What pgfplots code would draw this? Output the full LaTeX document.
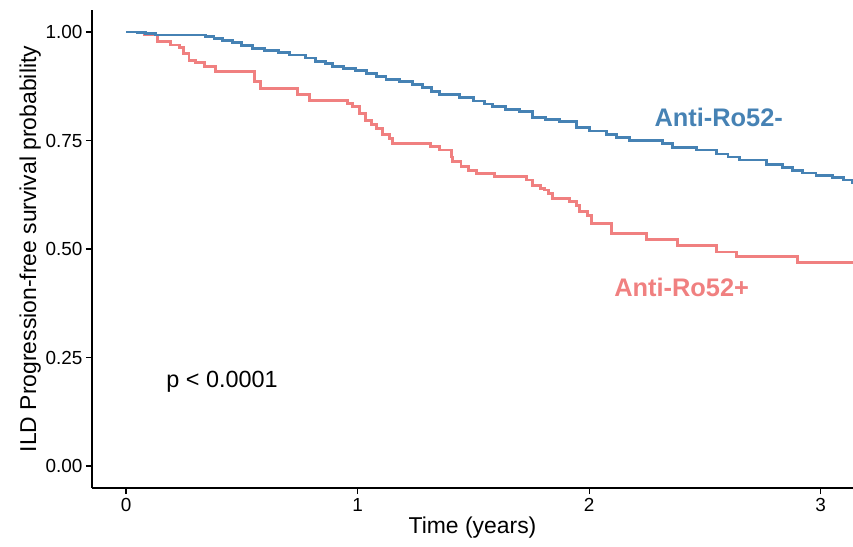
\documentclass[border=0pt]{standalone}
\usepackage{pgfplots}
\pgfplotsset{compat=1.18}
\usepackage{fontspec}
\setmainfont{Liberation Sans}
\definecolor{roneg}{RGB}{70,130,180}
\definecolor{ropos}{RGB}{240,128,128}
\begin{document}
\begin{tikzpicture}
\path[use as bounding box] (-92bp,-59bp) rectangle (761bp,488bp);
\begin{axis}[
  at={(0,0)}, anchor=south west,
  scale only axis, width=761bp, height=478bp,
  xmin=-0.147, xmax=3.14, ymin=-0.0507, ymax=1.0507,
  axis x line*=bottom, axis y line*=left,
  axis line style={-, line width=1.2bp, black},
  xtick={0,1,2,3}, ytick={0,0.25,0.5,0.75,1},
  tick style={line width=1.1bp, black},
  tick align=outside, major tick length=6bp,
  minor tick num=0,
  /pgf/number format/assume math mode=true,
  xticklabel style={font=\fontsize{19}{21}\selectfont, black, yshift=-1bp},
  yticklabel style={font=\fontsize{19}{21}\selectfont, black,
    /pgf/number format/.cd, fixed, fixed zerofill, precision=2},
  xlabel={Time (years)},
  ylabel={ILD Progression-free survival probability},
  xlabel style={font=\fontsize{23}{26}\selectfont, yshift=2bp},
  ylabel style={font=\fontsize{23}{26}\selectfont, yshift=-2bp},
  clip=true,
]
\addplot[const plot, color=ropos, line width=2.9bp] coordinates {
(0,1.000) (0.08,0.993) (0.135,0.978) (0.193,0.970) (0.229,0.964)
(0.25,0.950) (0.272,0.935) (0.301,0.930) (0.337,0.920) (0.388,0.909)
(0.556,0.886) (0.582,0.870) (0.741,0.855) (0.791,0.843) (0.955,0.836)
(0.978,0.828) (1.007,0.813) (1.036,0.797) (1.06,0.786) (1.080,0.778)
(1.108,0.763) (1.137,0.755) (1.151,0.744) (1.317,0.736) (1.353,0.728)
(1.404,0.712) (1.411,0.701) (1.447,0.690) (1.48,0.680) (1.512,0.674)
(1.591,0.667) (1.728,0.659) (1.757,0.647) (1.79,0.640) (1.807,0.636)
(1.825,0.628) (1.843,0.617) (1.915,0.610) (1.944,0.601) (1.959,0.586)
(1.994,0.578) (2.009,0.559) (2.096,0.536) (2.247,0.521) (2.382,0.509)
(2.551,0.493) (2.637,0.482) (2.901,0.468) (3.2,0.468)
};
\addplot[const plot, color=roneg, line width=2.9bp] coordinates {
(0,1.000) (0.05,0.998) (0.085,0.996) (0.128,0.993) (0.345,0.989)
(0.38,0.985) (0.416,0.980) (0.46,0.975) (0.50,0.968) (0.546,0.962)
(0.60,0.957) (0.66,0.952) (0.705,0.947) (0.777,0.940) (0.82,0.933)
(0.86,0.927) (0.892,0.920) (0.94,0.916) (0.993,0.911) (1.04,0.905)
(1.08,0.898) (1.123,0.891) (1.18,0.886) (1.236,0.880) (1.28,0.872)
(1.32,0.863) (1.353,0.855) (1.44,0.849) (1.50,0.841) (1.55,0.834)
(1.582,0.829) (1.64,0.822) (1.699,0.816) (1.755,0.804) (1.81,0.799)
(1.872,0.793) (1.946,0.779) (2.0,0.772) (2.075,0.763) (2.12,0.757)
(2.175,0.751) (2.317,0.744) (2.361,0.733) (2.464,0.728) (2.551,0.719)
(2.60,0.712) (2.650,0.705) (2.767,0.694) (2.836,0.687) (2.88,0.681)
(2.923,0.675) (2.98,0.670) (3.052,0.664) (3.10,0.659) (3.139,0.654)
(3.2,0.650)
};
\node[font=\bfseries\fontsize{25.5}{28}\selectfont, color=roneg] at (axis cs:2.56,0.804) {Anti-Ro52-};
\node[font=\bfseries\fontsize{25.5}{28}\selectfont, color=ropos] at (axis cs:2.40,0.412) {Anti-Ro52+};
\node[font=\fontsize{23.5}{26}\selectfont, black] at (axis cs:0.415,0.194) {p < 0.0001};
\end{axis}
\end{tikzpicture}
\end{document}
